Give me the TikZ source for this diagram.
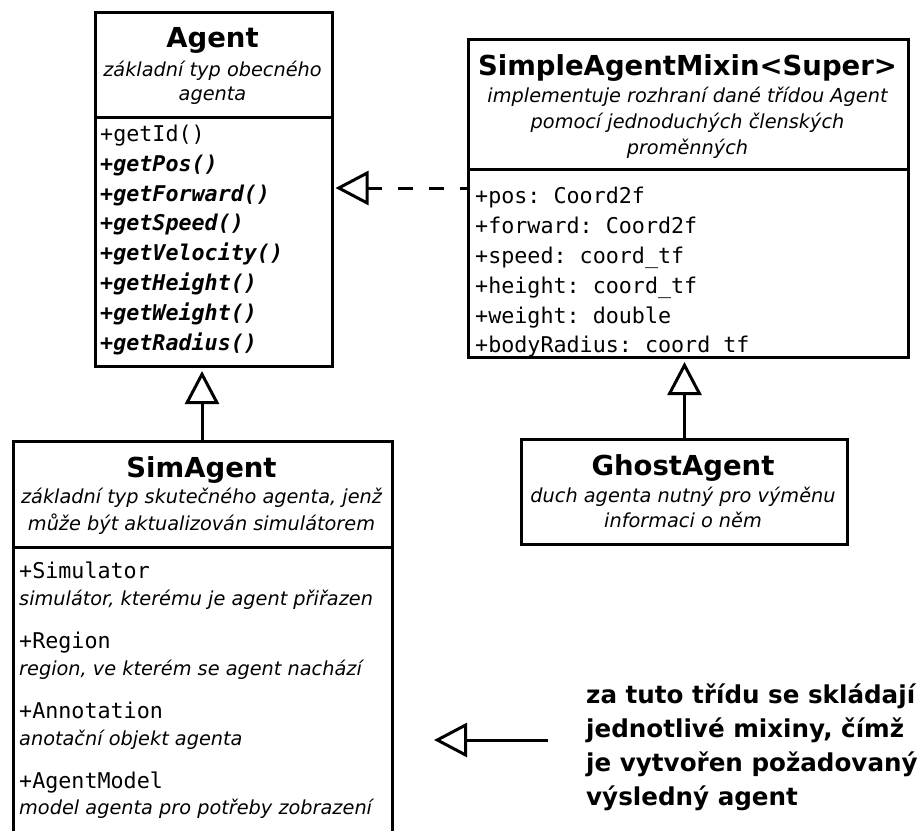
\documentclass[tikz,border=0pt]{standalone}
\usepackage{fontspec}
\setmainfont{DejaVu Sans}
\setmonofont{DejaVu Sans Mono}
\usetikzlibrary{arrows.meta}
\tikzset{
  box/.style={draw, line width=3pt, rectangle, anchor=north west, inner sep=0pt},
  divl/.style={line width=3pt},
  ttl/.style={anchor=base, inner sep=0pt, font=\fontsize{27.5}{32}\selectfont\bfseries},
  sub/.style={anchor=base, inner sep=0pt, font=\fontsize{19.3}{24}\selectfont\itshape},
  mono/.style={anchor=base west, inner sep=0pt, font=\fontsize{21.7}{26}\selectfont\ttfamily},
  monobi/.style={anchor=base west, inner sep=0pt, font=\fontsize{21.7}{26}\selectfont\ttfamily\bfseries\itshape},
  desc/.style={anchor=base west, inner sep=0pt, font=\fontsize{19.3}{24}\selectfont\itshape},
  note/.style={anchor=base west, inner sep=0pt, font=\fontsize{24.6}{30}\selectfont\bfseries},
  inh/.style={line width=3pt, -{Triangle[open, length=33pt, width=34pt, line width=3pt]}},
  real/.style={inh, dash pattern=on 15pt off 16pt, dash phase=8pt},
}
\begin{document}
\begin{tikzpicture}[x=1pt,y=-1pt]
\useasboundingbox (0,0) rectangle (923,830);
\clip (0,0) rectangle (923,830);
\fill[white] (0,0) rectangle (923,830);

% ---- Agent texts
\node[ttl] (agentT) at (212.5,47) {Agent};
\node[sub] (agentS1) at (212.5,76) {základní typ obecného};
\node[sub] (agentS2) at (212.5,100) {agenta};
\node[mono] (am1) at (100,141.5) {+getId()};
\node[monobi] (am2) at (100,171.3) {+getPos()};
\node[monobi] (am3) at (100,201.1) {+getForward()};
\node[monobi] (am4) at (100,230.9) {+getSpeed()};
\node[monobi] (am5) at (100,260.7) {+getVelocity()};
\node[monobi] (am6) at (100,290.5) {+getHeight()};
\node[monobi] (am7) at (100,320.3) {+getWeight()};
\node[monobi] (am8) at (100,350.1) {+getRadius()};

% ---- SimpleAgentMixin texts
\node[ttl] (mixT) at (687.5,75) {SimpleAgentMixin<Super>};
\node[sub] (mixS1) at (687.5,102) {implementuje rozhraní dané třídou Agent};
\node[sub] (mixS2) at (687.5,128) {pomocí jednoduchých členských};
\node[sub] (mixS3) at (687.5,154) {proměnných};
\node[mono] (ma1) at (475,203) {+pos: Coord2f};
\node[mono] (ma2) at (475,233) {+forward: Coord2f};
\node[mono] (ma3) at (475,263) {+speed: coord\_tf};
\node[mono] (ma4) at (475,293) {+height: coord\_tf};
\node[mono] (ma5) at (475,323) {+weight: double};
\node[mono] (ma6) at (475,352) {+bodyRadius: coord\_tf};

% ---- SimAgent texts
\node[ttl] (simT) at (201.5,477) {SimAgent};
\node[sub] (simS1) at (201.5,503) {základní typ skutečného agenta, jenž};
\node[sub] (simS2) at (201.5,530) {může být aktualizován simulátorem};
\node[mono] (sa1) at (19,578) {+Simulator};
\node[desc] (sd1) at (19,605) {simulátor, kterému je agent přiřazen};
\node[mono] (sa2) at (19,648) {+Region};
\node[desc] (sd2) at (19,675) {region, ve kterém se agent nachází};
\node[mono] (sa3) at (19,718) {+Annotation};
\node[desc] (sd3) at (19,745) {anotační objekt agenta};
\node[mono] (sa4) at (19,788) {+AgentModel};
\node[desc] (sd4) at (19,814) {model agenta pro potřeby zobrazení};

% ---- GhostAgent texts
\node[ttl] (ghT) at (683,475) {GhostAgent};
\node[sub] (ghS1) at (683,502) {duch agenta nutný pro výměnu};
\node[sub] (ghS2) at (683,527) {informaci o něm};

% ---- note
\node[note] (n1) at (586,703) {za tuto třídu se skládají};
\node[note] (n2) at (586,737) {jednotlivé mixiny, čímž};
\node[note] (n3) at (586,771) {je vytvořen požadovaný};
\node[note] (n4) at (586,805) {výsledný agent};

% ---- boxes
\node[box, minimum width=237pt, minimum height=354pt] (agent) at (94,11) {};
\draw[divl] (agent.west |- 0,117) -- (agent.east |- 0,117);
\node[box, minimum width=440pt, minimum height=318pt] (mixin) at (467,38) {};
\draw[divl] (mixin.west |- 0,169) -- (mixin.east |- 0,169);
\node[box, minimum width=379pt, minimum height=420pt] (simagent) at (12,440) {};
\draw[divl] (simagent.west |- 0,547) -- (simagent.east |- 0,547);
\node[box, minimum width=326pt, minimum height=105pt] (ghost) at (520,438) {};

% ---- connectors
\draw[real] (mixin.west |- 0,188) -- ([xshift=1.5pt]agent.east |- 0,188);
\draw[inh] (202,0 |- simagent.north) -- ([yshift=-3pt]202,0 |- agent.south);
\draw[inh] (ghost.north) -- ([yshift=-3pt]ghost.north |- mixin.south);
\coordinate (nstart) at (548,740);
\coordinate (ntip) at (434,740);
\draw[inh] (nstart) -- (ntip);
\end{tikzpicture}
\end{document}
